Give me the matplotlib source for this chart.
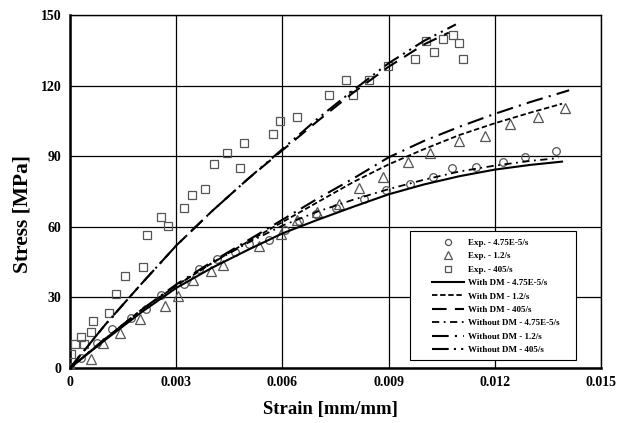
import matplotlib
matplotlib.use("Agg")
import matplotlib.pyplot as plt
from matplotlib.patches import Rectangle

plt.rcParams['font.family'] = ['Liberation Serif', 'DejaVu Serif']
plt.rcParams['font.weight'] = 'bold'

# ---------------- data ----------------
# Experimental, 4.75E-5/s (circles)
exp1_strain = [0.0, 0.0003, 0.00075, 0.0012, 0.00173, 0.00215, 0.00257, 0.00323, 0.00363,
               0.00415, 0.00467, 0.00507, 0.00563, 0.00606, 0.00648, 0.00696, 0.0075, 0.0083,
               0.00894, 0.0096, 0.01025, 0.01078, 0.01146, 0.01222, 0.01285, 0.01372]
exp1_stress = [0.0, 4.4, 10.5, 16.6, 21.4, 25.1, 31.0, 35.6, 41.9,
               46.2, 49.4, 52.7, 54.3, 58.6, 62.6, 65.3, 67.8, 71.8,
               75.6, 78.1, 81.3, 84.9, 85.3, 87.5, 89.5, 92.1]

# Experimental, 1.2/s (triangles)
exp2_strain = [0.0, 0.00059, 0.00093, 0.00142, 0.00198, 0.00267, 0.00304, 0.00347, 0.00397,
               0.00433, 0.00533, 0.00596, 0.0064, 0.00698, 0.0076, 0.00815, 0.00885, 0.00955,
               0.01016, 0.01099, 0.01171, 0.01243, 0.01323, 0.01397]
exp2_stress = [0.0, 3.8, 10.5, 15.0, 20.7, 26.4, 30.7, 37.4, 41.4,
               43.8, 52.0, 56.9, 62.9, 66.4, 69.7, 76.6, 81.3, 87.4,
               91.2, 96.3, 98.6, 103.7, 106.5, 110.6]

# Experimental, 405/s (squares)
exp3_strain = [0.0, 0.00003, 0.00013, 0.00031, 0.0004, 0.00058, 0.00064, 0.0011, 0.00131,
               0.00154, 0.00206, 0.00217, 0.00258, 0.00278, 0.00322, 0.00345, 0.00382, 0.00407,
               0.00444, 0.00479, 0.00492, 0.00573, 0.00594, 0.0064, 0.00731, 0.00779, 0.00799,
               0.00844, 0.00898, 0.00974, 0.01005, 0.01028, 0.01053, 0.01082, 0.01098, 0.01111]
exp3_stress = [0.0, 6.0, 10.1, 13.3, 10.1, 15.3, 19.8, 23.2, 31.3,
               39.1, 42.8, 56.4, 64.2, 60.3, 67.9, 73.7, 75.9, 86.7,
               91.5, 84.9, 95.5, 99.3, 104.8, 106.8, 115.9, 122.4, 116.2,
               122.3, 128.2, 131.5, 139.1, 134.1, 139.6, 141.7, 138.1, 131.5]

# Model curves
wdm1_strain = [0.0, 0.001, 0.002, 0.003, 0.004, 0.005, 0.006, 0.007, 0.008, 0.009, 0.010, 0.011, 0.012, 0.013, 0.0139]
wdm1_stress = [0.0, 12.0, 23.5, 34.0, 42.5, 50.0, 57.2, 63.0, 68.5, 73.8, 78.0, 81.5, 84.3, 86.3, 87.7]

wdm2_strain = [0.0, 0.001, 0.002, 0.003, 0.004, 0.005, 0.006, 0.007, 0.008, 0.009, 0.010, 0.011, 0.012, 0.013, 0.0139]
wdm2_stress = [0.0, 12.5, 24.5, 35.0, 44.5, 53.5, 62.0, 70.5, 79.0, 86.5, 93.0, 99.0, 104.0, 108.5, 112.3]

wdm3_strain = [0.0, 0.001, 0.002, 0.003, 0.004, 0.005, 0.006, 0.007, 0.008, 0.009, 0.010, 0.0107]
wdm3_stress = [0.0, 18.5, 35.5, 52.0, 66.5, 80.0, 92.5, 105.0, 117.0, 128.0, 137.5, 142.5]

wo1_strain = [0.0, 0.001, 0.002, 0.003, 0.004, 0.005, 0.006, 0.007, 0.008, 0.009, 0.010, 0.011, 0.012, 0.013, 0.0138]
wo1_stress = [0.0, 12.5, 24.5, 35.0, 44.5, 53.0, 60.5, 66.5, 71.5, 76.0, 80.0, 83.5, 86.0, 88.0, 89.2]

wo2_strain = [0.0, 0.001, 0.002, 0.003, 0.004, 0.005, 0.006, 0.007, 0.008, 0.009, 0.010, 0.011, 0.012, 0.013, 0.0141]
wo2_stress = [0.0, 12.5, 24.5, 35.5, 45.0, 54.0, 63.0, 72.0, 80.5, 89.5, 96.5, 102.5, 108.0, 113.0, 118.0]

wo3_strain = [0.0, 0.001, 0.002, 0.003, 0.004, 0.005, 0.006, 0.007, 0.008, 0.009, 0.010, 0.0109]
wo3_stress = [0.0, 18.5, 35.5, 52.0, 66.5, 80.0, 93.0, 106.0, 118.0, 129.5, 139.0, 146.0]

labels = ['Exp. - 4.75E-5/s', 'Exp. - 1.2/s', 'Exp. - 405/s',
          'With DM - 4.75E-5/s', 'With DM - 1.2/s', 'With DM - 405/s',
          'Without DM - 4.75E-5/s', 'Without DM - 1.2/s', 'Without DM - 405/s']

x_ticks = [0, 0.003, 0.006, 0.009, 0.012, 0.015]
x_ticklabels = ['0', '0.003', '0.006', '0.009', '0.012', '0.015']
y_ticks = [0, 30, 60, 90, 120, 150]

# ---------------- figure ----------------
fig = plt.figure(figsize=(6.24, 4.23), dpi=100)
ax = fig.add_axes([70/624, 55/423, 531/624, 353/423])

gray = '#555555'
ax.plot(exp1_strain, exp1_stress, linestyle='none', marker='o', ms=5.5, mfc='none', mec=gray, mew=0.9, label=labels[0], zorder=3)
ax.plot(exp2_strain, exp2_stress, linestyle='none', marker='^', ms=6.5, mfc='none', mec=gray, mew=0.9, label=labels[1], zorder=3)
ax.plot(exp3_strain, exp3_stress, linestyle='none', marker='s', ms=6, mfc='none', mec=gray, mew=0.9, label=labels[2], zorder=3)

ax.plot(wdm1_strain, wdm1_stress, color='black', lw=1.5, linestyle='-', label=labels[3], zorder=4)
ax.plot(wdm2_strain, wdm2_stress, color='black', lw=1.3, linestyle=(0, (3, 1.5)), label=labels[4], zorder=4)
ax.plot(wdm3_strain, wdm3_stress, color='black', lw=1.5, linestyle=(0, (7, 4)), label=labels[5], zorder=4)
ax.plot(wo1_strain, wo1_stress, color='black', lw=1.3, linestyle=(0, (4, 2.5, 1, 2.5)), label=labels[6], zorder=4)
ax.plot(wo2_strain, wo2_stress, color='black', lw=1.5, linestyle=(0, (8, 3, 1, 3)), label=labels[7], zorder=4)
ax.plot(wo3_strain, wo3_stress, color='black', lw=1.5, linestyle=(0, (8, 2.5, 1, 2.5, 1, 2.5)), label=labels[8], zorder=4)

ax.set_xlim(0, 0.015)
ax.set_ylim(0, 150)
ax.set_xticks(x_ticks)
ax.set_xticklabels(x_ticklabels)
ax.set_yticks(y_ticks)
ax.grid(True, color='black', lw=0.9)
ax.set_axisbelow(True)
ax.tick_params(length=0, labelsize=10, pad=6)
for lab in ax.get_xticklabels() + ax.get_yticklabels():
    lab.set_fontweight('bold')
for s in ['left', 'bottom']:
    ax.spines[s].set_linewidth(1.8)
for s in ['top', 'right']:
    ax.spines[s].set_linewidth(1.0)

ax.set_xlabel('Strain [mm/mm]', fontsize=13.5, fontweight='bold')
ax.set_ylabel('Stress [MPa]', fontsize=15.5, fontweight='bold')
ax.xaxis.set_label_coords(0.49, -0.093)
ax.yaxis.set_label_coords(-0.07, 0.436)

# legend frame
frame = Rectangle((0.640, 0.023), 0.313, 0.365, transform=ax.transAxes, facecolor='white',
                  edgecolor='black', lw=0.8, zorder=5)
ax.add_patch(frame)
leg = ax.legend(loc='upper left', bbox_to_anchor=(0.682, 0.366),
                fontsize=6.5, frameon=False, markerscale=0.8,
                handlelength=3.5, handletextpad=0.45, labelspacing=0.56, borderpad=0,
                borderaxespad=0)
leg.set_zorder(6)
for t in leg.get_texts():
    t.set_fontweight('bold')

fig.savefig('out.png', dpi=100)
